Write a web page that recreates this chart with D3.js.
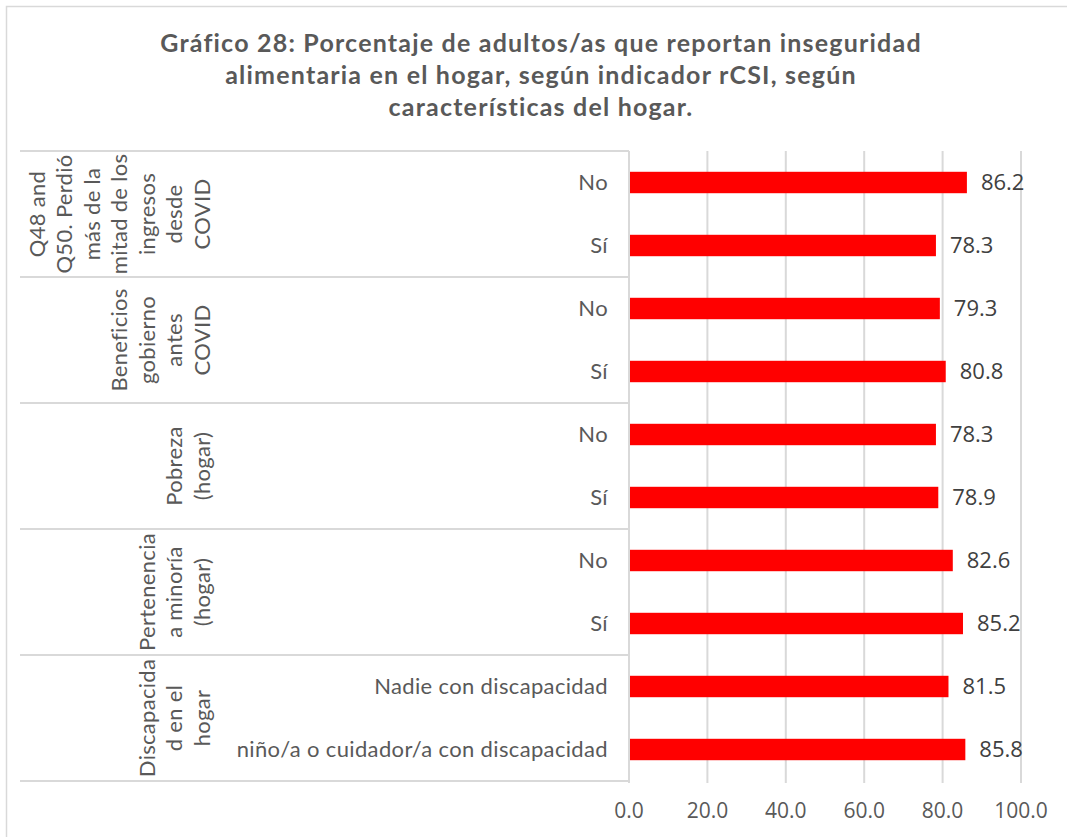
<!DOCTYPE html>
<html>
<head>
<meta charset="utf-8">
<script src="https://cdn.jsdelivr.net/npm/d3@7"></script>
<style>
  body { margin: 0; background: #fff; }
  text { fill: #595959; }
</style>
</head>
<body>
<div id="chart"></div>
<script>
var svgWidth = 1067;
var svgHeight = 837;

// data
var groupNames = [
  ["Q48 and", "Q50. Perdió", "más de la", "mitad de los", "ingresos", "desde", "COVID"],
  ["Beneficios", "gobierno", "antes", "COVID"],
  ["Pobreza", "(hogar)"],
  ["Pertenencia", "a minoría", "(hogar)"],
  ["Discapacida", "d en el", "hogar"]
];
var categories = ["No", "Sí", "No", "Sí", "No", "Sí", "No", "Sí",
  "Nadie con discapacidad", "niño/a o cuidador/a con discapacidad"];
var values = [86.2, 78.3, 79.3, 80.8, 78.3, 78.9, 82.6, 85.2, 81.5, 85.8];
var xTicks = [0, 20, 40, 60, 80, 100];
var titleLines = [
  "Gráfico 28: Porcentaje de adultos/as que reportan inseguridad",
  "alimentaria en el hogar, según indicador rCSI, según",
  "características del hogar."
];

var margin = { top: 151, left: 629, right: 46, bottom: 56 };
var chartWidth = svgWidth - margin.left - margin.right;
var chartHeight = svgHeight - margin.top - margin.bottom;

var textFont = "Lato, 'Noto Sans', sans-serif";
var numFont = "'Open Sans', 'Noto Sans', sans-serif";
var gridColor = "#d9d9d9";

var svg = d3.select("#chart")
  .append("svg")
  .attr("width", svgWidth)
  .attr("height", svgHeight);

// outer border
svg.append("rect")
  .attr("x", 6.5)
  .attr("y", 6.5)
  .attr("width", svgWidth + 10)
  .attr("height", svgHeight + 10)
  .attr("fill", "none")
  .attr("stroke", gridColor)
  .attr("stroke-width", 1.5);

// title
svg.append("g").selectAll("text")
  .data(titleLines)
  .enter()
  .append("text")
  .attr("x", 541)
  .attr("y", (d, i) => 52 + i * 32)
  .attr("text-anchor", "middle")
  .style("font-family", textFont)
  .style("font-weight", "bold")
  .style("font-size", "25px")
  .style("letter-spacing", "1.2px")
  .text(d => d);

var chartGroup = svg.append("g")
  .attr("transform", `translate(${margin.left}, ${margin.top})`);

var xScale = d3.scaleLinear()
  .domain([0, 100])
  .range([0, 392]);

var yScale = d3.scaleBand()
  .domain(d3.range(categories.length))
  .range([0, chartHeight])
  .paddingInner(0.66)
  .paddingOuter(0.33);

var step = yScale.step();

// vertical grid lines
chartGroup.append("g").selectAll("line")
  .data(xTicks)
  .enter()
  .append("line")
  .attr("x1", d => xScale(d))
  .attr("x2", d => xScale(d))
  .attr("y1", 0)
  .attr("y2", chartHeight + 2)
  .attr("stroke", gridColor)
  .attr("stroke-width", 2);

// x tick labels
chartGroup.append("g").selectAll("text")
  .data(xTicks)
  .enter()
  .append("text")
  .attr("x", d => xScale(d))
  .attr("y", chartHeight + 37)
  .attr("text-anchor", "middle")
  .style("font-family", numFont)
  .style("font-size", "21px")
  .text(d => d3.format(".1f")(d));

// group separators (left category axis)
var groupBounds = d3.range(groupNames.length + 1).map(function(g) {
  return g * 2 * step;
});

chartGroup.append("g").selectAll("line")
  .data(groupBounds)
  .enter()
  .append("line")
  .attr("x1", 20 - margin.left)
  .attr("x2", 0)
  .attr("y1", d => d)
  .attr("y2", d => d)
  .attr("stroke", gridColor)
  .attr("stroke-width", 2);

// bars
chartGroup.append("g").selectAll("rect")
  .data(values)
  .enter()
  .append("rect")
  .attr("x", 1)
  .attr("y", (d, i) => yScale(i))
  .attr("width", d => xScale(d) - 1)
  .attr("height", yScale.bandwidth())
  .attr("fill", "#ff0000");

// value labels
chartGroup.append("g").selectAll("text")
  .data(values)
  .enter()
  .append("text")
  .attr("x", d => xScale(d) + 14)
  .attr("y", (d, i) => yScale(i) + yScale.bandwidth() / 2)
  .attr("dy", "0.36em")
  .style("font-family", numFont)
  .style("font-size", "22px")
  .style("fill", "#404040")
  .text(d => d.toFixed(1));

// category labels
chartGroup.append("g").selectAll("text")
  .data(categories)
  .enter()
  .append("text")
  .attr("x", -21)
  .attr("y", (d, i) => yScale(i) + yScale.bandwidth() / 2)
  .attr("dy", "0.35em")
  .attr("text-anchor", "end")
  .style("font-family", textFont)
  .style("font-size", "22px")
  .style("letter-spacing", "0.35px")
  .text(d => d);

// rotated group labels, last line next to the category labels
var lineGap = 27.5;
groupNames.forEach(function(lines, g) {
  var cy = (groupBounds[g] + groupBounds[g + 1]) / 2;
  var label = chartGroup.append("text")
    .attr("transform", `translate(${202 - margin.left}, ${cy}) rotate(-90)`)
    .attr("text-anchor", "middle")
    .style("font-family", textFont)
    .style("font-size", "22px")
    .style("letter-spacing", "0.3px");
  lines.forEach(function(line, i) {
    label.append("tspan")
      .attr("x", 0)
      .attr("y", (i - lines.length + 1) * lineGap)
      .attr("dy", "0.35em")
      .text(line);
  });
});
</script>
</body>
</html>
